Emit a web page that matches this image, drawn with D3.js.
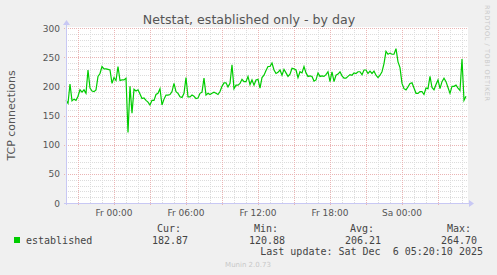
<!DOCTYPE html>
<html>
<head>
<meta charset="utf-8">
<script src="https://cdn.jsdelivr.net/npm/d3@7"></script>
<style>
  body { margin: 0; background: #f0f0f0; }
  svg { display: block; }
</style>
</head>
<body>
<div id="chart"></div>
<script>
const width = 497;
const height = 275;

// data: one sample every 10 minutes, Thu 4 Dec 20:00 -> Sat 6 Dec 05:20 (UTC)
const startTime = Date.UTC(2025, 11, 4, 20, 0);
const stepMinutes = 10;
const established = [
  176, 171, 204, 175, 178, 176, 183, 194, 190, 194,
  188, 228, 197, 192, 191, 194, 217, 222, 234, 230,
  230, 229, 228, 205, 215, 210, 234, 210, 211, 211,
  214, 120.88, 200, 154, 195, 192, 194, 187, 179, 180,
  176, 173, 168, 176, 176, 186, 188, 196, 168, 178,
  185, 185, 186, 191, 205, 191, 188, 182, 181, 188,
  215, 182, 182, 185, 183, 179, 180, 188, 190, 214,
  185, 188, 186, 188, 190, 188, 186, 191, 200, 206,
  206, 199, 205, 237, 196, 202, 202, 205, 212, 208,
  208, 217, 203, 211, 202, 211, 212, 197, 215, 219,
  227, 234, 234, 240, 228, 222, 224, 228, 219, 229,
  223, 217, 221, 231, 230, 228, 215, 225, 223, 234,
  223, 217, 218, 217, 209, 211, 223, 217, 218, 217,
  220, 225, 208, 225, 208, 219, 221, 225, 218, 214,
  214, 217, 220, 219, 223, 222, 225, 225, 220, 228,
  228, 222, 226, 222, 226, 219, 215, 219, 225, 239,
  260, 255, 257, 255, 255, 264.7, 242, 232, 205, 196,
  194, 199, 205, 206, 197, 188, 188, 191, 191, 186,
  197, 196, 217, 198, 194, 203, 211, 196, 208, 214,
  208, 198, 188, 200, 200, 202, 197, 193, 247, 176,
  182.87
];

const xTickTimes = [
  Date.UTC(2025, 11, 5, 0), Date.UTC(2025, 11, 5, 6), Date.UTC(2025, 11, 5, 12),
  Date.UTC(2025, 11, 5, 18), Date.UTC(2025, 11, 6, 0)
];
const xTickLabels = ["Fr 00:00", "Fr 06:00", "Fr 12:00", "Fr 18:00", "Sa 00:00"];
const yTicks = [0, 50, 100, 150, 200, 250, 300];

const legendHeaders = ["Cur:", "Min:", "Avg:", "Max:"];
const legendValues = ["182.87", "120.88", "206.21", "264.70"];

const data = established.map((v, i) => ({
  t: new Date(startTime + i * stepMinutes * 60000),
  v: v
}));

const svg = d3.select("#chart")
  .append("svg")
  .attr("width", width)
  .attr("height", height);

const plot = { left: 66, right: 466, top: 28, bottom: 203 };

const x = d3.scaleUtc()
  .domain([data[0].t, data[data.length - 1].t])
  .range([plot.left, plot.right]);

const y = d3.scaleLinear()
  .domain([0, 300])
  .range([plot.bottom, plot.top]);

// canvas
svg.append("rect")
  .attr("x", plot.left)
  .attr("y", plot.top - 1)
  .attr("width", plot.right - plot.left + 2)
  .attr("height", plot.bottom - plot.top + 1)
  .attr("fill", "#fff");

// grid
const grid = svg.append("g").attr("shape-rendering", "crispEdges");

grid.selectAll("line.hminor")
  .data(d3.range(10, 301, 10).filter(d => d % 50 !== 0))
  .join("line")
  .attr("x1", plot.left).attr("x2", plot.right + 2)
  .attr("y1", d => Math.round(y(d)) + 0.5).attr("y2", d => Math.round(y(d)) + 0.5)
  .attr("stroke", "#dcdcdc")
  .attr("stroke-dasharray", "1,1");

const hours = d3.utcHour.range(x.domain()[0], x.domain()[1]);

grid.selectAll("line.vminor")
  .data(hours.filter(d => d.getUTCHours() % 3 !== 0))
  .join("line")
  .attr("x1", d => Math.round(x(d)) + 0.5).attr("x2", d => Math.round(x(d)) + 0.5)
  .attr("y1", plot.top).attr("y2", plot.bottom)
  .attr("stroke", "#dcdcdc")
  .attr("stroke-dasharray", "1,1");

grid.selectAll("line.hmajor")
  .data(yTicks.filter(d => d > 0))
  .join("line")
  .attr("x1", plot.left - 2).attr("x2", plot.right + 2)
  .attr("y1", d => Math.round(y(d)) + 0.5).attr("y2", d => Math.round(y(d)) + 0.5)
  .attr("stroke", "#eab4b4")
  .attr("stroke-dasharray", "1,1");

grid.selectAll("line.vmajor")
  .data(hours.filter(d => d.getUTCHours() % 3 === 0))
  .join("line")
  .attr("x1", d => Math.round(x(d)) + 0.5).attr("x2", d => Math.round(x(d)) + 0.5)
  .attr("y1", plot.top).attr("y2", plot.bottom + 3)
  .attr("stroke", "#eab4b4")
  .attr("stroke-dasharray", "1,1");

// the series
const line = d3.line()
  .x(d => x(d.t))
  .y(d => y(d.v));

svg.append("path")
  .datum(data)
  .attr("d", line)
  .attr("fill", "none")
  .attr("stroke", "#00cc00")
  .attr("stroke-width", 1.2)
  .attr("stroke-linejoin", "miter");

// axes with arrows
const axisColor = "#c8c8f4";
svg.append("line")
  .attr("x1", plot.left + 0.5).attr("x2", plot.left + 0.5)
  .attr("y1", plot.bottom + 2).attr("y2", plot.top - 4)
  .attr("stroke", axisColor);
svg.append("path")
  .attr("d", `M${plot.left - 3},${plot.top - 3}L${plot.left + 0.5},${plot.top - 8}L${plot.left + 4},${plot.top - 3}Z`)
  .attr("fill", axisColor);
svg.append("line")
  .attr("x1", plot.left - 2).attr("x2", plot.right + 4)
  .attr("y1", plot.bottom + 0.5).attr("y2", plot.bottom + 0.5)
  .attr("stroke", axisColor);
svg.append("path")
  .attr("d", `M${plot.right + 3},${plot.bottom - 3}L${plot.right + 8},${plot.bottom + 0.5}L${plot.right + 3},${plot.bottom + 4}Z`)
  .attr("fill", axisColor);

// tick labels
svg.append("g")
  .selectAll("text")
  .data(yTicks)
  .join("text")
  .attr("x", 60)
  .attr("y", d => y(d) + 3.5)
  .attr("text-anchor", "end")
  .attr("font-family", "DejaVu Sans")
  .attr("font-size", 9)
  .attr("fill", "#555")
  .text(d => d);

svg.append("g")
  .selectAll("text")
  .data(xTickTimes)
  .join("text")
  .attr("x", d => x(new Date(d)))
  .attr("y", 216)
  .attr("text-anchor", "middle")
  .attr("font-family", "DejaVu Sans")
  .attr("font-size", 9)
  .attr("fill", "#555")
  .text((d, i) => xTickLabels[i]);

// title and labels
svg.append("text")
  .attr("x", 249)
  .attr("y", 24)
  .attr("text-anchor", "middle")
  .attr("font-family", "DejaVu Sans")
  .attr("font-size", 12.6)
  .attr("fill", "#555")
  .text("Netstat, established only - by day");

svg.append("text")
  .attr("transform", `translate(15,${(plot.top + plot.bottom) / 2}) rotate(-90)`)
  .attr("text-anchor", "middle")
  .attr("font-family", "DejaVu Sans")
  .attr("font-size", 11)
  .attr("fill", "#555")
  .text("TCP connections");

svg.append("text")
  .attr("transform", "translate(484.5,5) rotate(90)")
  .attr("font-family", "DejaVu Sans")
  .attr("font-size", 6.5)
  .attr("textLength", 96)
  .attr("lengthAdjust", "spacing")
  .attr("fill", "#cacaca")
  .text("RRDTOOL / TOBI OETIKER");

// legend
const mono = "DejaVu Sans Mono";
svg.append("rect")
  .attr("x", 14).attr("y", 237)
  .attr("width", 6).attr("height", 6)
  .attr("fill", "#00cc00");

svg.append("text")
  .attr("x", 26).attr("y", 243.5)
  .attr("font-family", mono).attr("font-size", 10)
  .attr("fill", "#444")
  .text("established");

const headerRight = [181, 278, 374, 471];
const valueRight = [188, 285, 381, 477];

svg.append("g")
  .selectAll("text")
  .data(legendHeaders)
  .join("text")
  .attr("x", (d, i) => headerRight[i])
  .attr("y", 232)
  .attr("text-anchor", "end")
  .attr("font-family", mono).attr("font-size", 10)
  .attr("fill", "#444")
  .text(d => d);

svg.append("g")
  .selectAll("text")
  .data(legendValues)
  .join("text")
  .attr("x", (d, i) => valueRight[i])
  .attr("y", 243.5)
  .attr("text-anchor", "end")
  .attr("font-family", mono).attr("font-size", 10)
  .attr("fill", "#444")
  .text(d => d);

svg.append("text")
  .attr("x", 483).attr("y", 255)
  .attr("text-anchor", "end")
  .attr("font-family", mono).attr("font-size", 10)
  .attr("fill", "#444")
  .attr("xml:space", "preserve")
  .style("white-space", "pre")
  .text("Last update: Sat Dec  6 05:20:10 2025");

svg.append("text")
  .attr("x", 248).attr("y", 266.5)
  .attr("text-anchor", "middle")
  .attr("font-family", "DejaVu Sans")
  .attr("font-size", 7)
  .attr("fill", "#c8c8c8")
  .text("Munin 2.0.73");
</script>
</body>
</html>
